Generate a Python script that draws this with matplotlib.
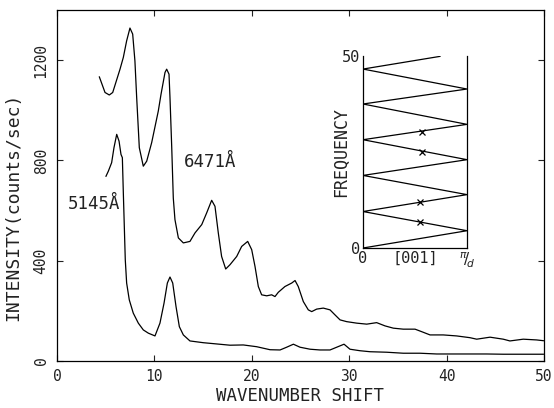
import numpy as np
import matplotlib
matplotlib.use("Agg")
import matplotlib.pyplot as plt

# --- data ---
# 6471 A excitation (upper trace)
x_6471 = [4.35, 4.93, 5.37, 5.72, 6.47, 6.81, 7.15, 7.49, 7.77, 8.0, 8.18, 8.45,
          8.86, 9.21, 9.72, 10.40, 10.68, 11.09, 11.26, 11.5, 11.6, 11.78, 11.94,
          12.11, 12.46, 12.97, 13.65, 14.17, 14.86, 15.37, 15.88, 16.22, 16.56,
          16.9, 17.32, 17.76, 18.45, 18.96, 19.58, 19.99, 20.33, 20.67, 21.01,
          21.53, 22.04, 22.38, 22.72, 23.4, 24.1, 24.44, 24.77, 25.29, 25.8,
          26.15, 26.66, 27.34, 28.03, 28.54, 29.06, 29.74, 30.77, 31.8, 32.82,
          33.68, 34.53, 35.55, 36.76, 37.44, 38.3, 39.66, 41.03, 42.4, 43.09,
          44.46, 45.82, 46.5, 47.87, 49.25, 49.93]
y_6471 = [1133, 1071, 1061, 1071, 1164, 1211, 1277, 1328, 1304, 1197, 1051, 851,
          777, 797, 871, 997, 1064, 1151, 1164, 1144, 1051, 851, 650,
          564, 491, 471, 477, 511, 544, 591, 641, 617, 511,
          417, 367, 384, 417, 457, 477, 444, 377, 297, 264,
          260, 264, 257, 274, 297, 311, 321, 297, 237, 204,
          197, 207, 211, 204, 184, 164, 157, 151, 147, 153,
          140, 131, 127, 127, 117, 104, 104, 100, 93, 87,
          95, 87, 80, 87, 84, 81]

# 5145 A excitation (lower trace)
x_5145 = [5.03, 5.27, 5.61, 5.85, 6.13, 6.37, 6.57, 6.71, 6.81, 6.91, 7.01, 7.15,
          7.42, 7.83, 8.35, 8.86, 9.38, 10.06, 10.57, 10.99, 11.33, 11.6, 11.88,
          12.22, 12.56, 12.97, 13.65, 15.02, 16.4, 17.76, 19.13, 20.5, 21.87,
          22.9, 23.58, 24.27, 24.95, 25.98, 27.0, 28.03, 28.72, 29.47, 30.08,
          31.1, 32.14, 33.85, 35.55, 37.27, 38.98, 40.69, 42.4, 44.1, 45.82,
          47.54, 49.93]
y_5145 = [737, 757, 791, 851, 904, 877, 824, 811, 671, 537, 404, 311,
          244, 191, 151, 124, 111, 100, 151, 231, 311, 335, 311,
          217, 137, 104, 80, 73, 68, 63, 64, 57, 45,
          44, 55, 67, 55, 47, 44, 44, 55, 67, 47,
          41, 37, 35, 31, 31, 28, 28, 28, 28, 27,
          27, 27]

# inset: folded acoustic branches (frequency vs k in units of pi/d)
zz_k = [0, 1, 0, 1, 0, 1, 0, 1, 0, 1, 0, 0.74]
zz_f = [0, 4.5, 9.5, 13.9, 18.9, 23.0, 28.2, 32.2, 37.5, 41.4, 46.6, 49.9]
obs_k = [0.565, 0.565, 0.55, 0.55]
obs_f = [30.3, 25.1, 11.9, 6.8]

plt.rcParams["font.family"] = ["DejaVu Sans Mono", "DejaVu Sans"]

fig = plt.figure(figsize=(5.54, 4.08), dpi=100)
ax = fig.add_axes([57 / 554, 47 / 408, 487 / 554, 351 / 408])

ax.plot(x_6471, y_6471, color="black", lw=0.9)
ax.plot(x_5145, y_5145, color="black", lw=0.9)

ax.set_xlim(0, 50)
ax.set_ylim(0, 1400)
ax.set_xticks([0, 10, 20, 30, 40, 50])
ax.set_yticks([0, 400, 800, 1200])
ax.set_yticklabels(["0", "400", "800", "1200"], rotation=90, va="center")
ax.tick_params(direction="in", length=4, width=0.8, top=True, right=True,
               labelsize=10.5, pad=6, colors="#222222")
for s in ax.spines.values():
    s.set_linewidth(0.9)
ax.set_xlabel("WAVENUMBER SHIFT", fontsize=12.5, labelpad=2, color="#222222")
ax.set_ylabel("INTENSITY(counts/sec)", fontsize=13, color="#222222")
ax.yaxis.set_label_coords(-0.072, 0.44)

ax.text(13.0, 792, "6471Å", fontsize=12.5, va="center", ha="left", color="#222222")
ax.text(1.1, 628, "5145Å", fontsize=12.5, va="center", ha="left", color="#222222")

# inset dispersion diagram
ins = fig.add_axes([363 / 554, 160 / 408, 104 / 554, 192 / 408])
ins.plot(zz_k, zz_f, color="black", lw=0.9)
ins.plot(obs_k, obs_f, "x", color="black", ms=4, mew=0.9)
ins.set_xlim(0, 1)
ins.set_ylim(0, 50)
ins.spines["top"].set_visible(False)
for s in ["left", "bottom", "right"]:
    ins.spines[s].set_linewidth(0.9)
ins.patch.set_alpha(0)
ins.set_xticks([0, 0.5, 1])
ins.set_xticklabels(["0", "[001]", r"$^{\pi}\!/\!_{d}$"])
ins.set_yticks([0, 50])
ins.tick_params(length=0, labelsize=11, pad=2, colors="#222222")
ins.set_ylabel("FREQUENCY", fontsize=12, labelpad=-6, color="#222222")

fig.savefig("out.png", dpi=100)
